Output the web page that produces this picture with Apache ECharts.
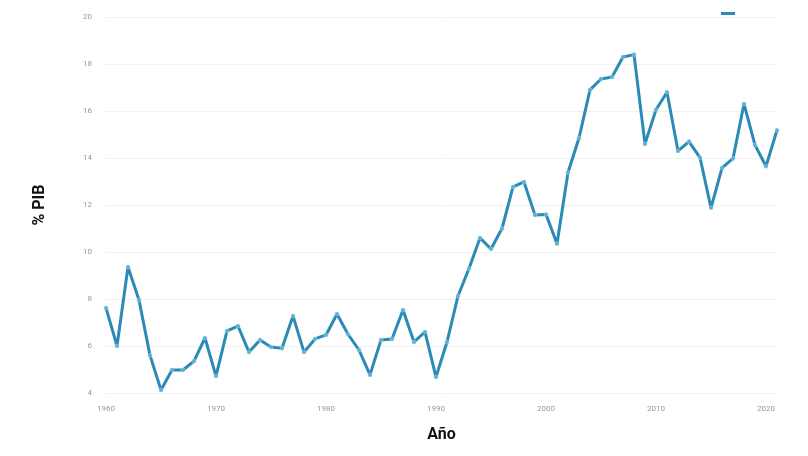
<!DOCTYPE html>
<html>
<head>
<meta charset="utf-8">
<script src="https://cdn.jsdelivr.net/npm/echarts@6/dist/echarts.min.js"></script>
<style>
html,body{margin:0;padding:0;background:#fff}
#main{width:808px;height:456px}
</style>
</head>
<body>
<div id="main"></div>
<script>
// años y % PIB
const years = [];
for (let y = 1960; y <= 2021; y++) years.push(y);
const pib = [
  7.62, 6.0, 9.36, 7.96, 5.6, 4.13, 4.98, 4.98, 5.36, 6.34,
  4.72, 6.64, 6.85, 5.74, 6.26, 5.96, 5.9, 7.28, 5.74, 6.3,
  6.47, 7.36, 6.5, 5.83, 4.77, 6.26, 6.3, 7.53, 6.17, 6.6,
  4.68, 6.17, 8.13, 9.3, 10.6, 10.13, 11.0, 12.77, 12.98, 11.57,
  11.6, 10.35, 13.38, 14.85, 16.9, 17.36, 17.45, 18.3, 18.4, 14.6,
  16.05, 16.8, 14.3, 14.7, 14.02, 11.88, 13.58, 13.98, 16.3, 14.55,
  13.65, 15.18
];
const yTicks = [4, 20, 2];   // min, max, interval

let chart = echarts.init(document.getElementById('main'));
let option = {
  backgroundColor: '#fff',
  animation: false,
  grid: { left: 106, right: 31, top: 17, bottom: 63 },
  legend: {
    top: 7, left: 716,
    itemWidth: 14, itemHeight: 3,
    icon: 'rect',
    itemStyle: { color: '#2b8ab6', borderWidth: 0 },
    formatter: () => '',
    data: ['PIB']
  },
  xAxis: {
    type: 'value',
    min: 1960, max: 2021,
    interval: 10,
    name: 'Año',
    nameLocation: 'middle',
    nameGap: 34,
    nameTextStyle: { fontFamily: 'Roboto', fontWeight: 'bold', fontSize: 16, color: '#111' },
    axisLine: { show: false },
    axisTick: { show: false },
    splitLine: { show: false },
    axisLabel: {
      fontFamily: 'Roboto', fontSize: 8, color: '#999', margin: 12,
      formatter: v => (v % 10 === 0 ? String(v) : '')
    }
  },
  yAxis: {
    type: 'value',
    min: yTicks[0], max: yTicks[1], interval: yTicks[2],
    name: '% PIB',
    nameLocation: 'middle',
    nameGap: 58,
    nameTextStyle: { fontFamily: 'Roboto', fontWeight: 'bold', fontSize: 16, color: '#111' },
    axisLine: { show: false },
    axisTick: { show: false },
    axisLabel: { fontFamily: 'Roboto', fontSize: 8, color: '#999', margin: 14 },
    splitLine: { lineStyle: { color: '#f1f1f1', width: 1 } }
  },
  series: [{
    name: 'PIB',
    type: 'line',
    data: years.map((y, i) => [y, pib[i]]),
    symbol: 'circle',
    symbolSize: 4,
    lineStyle: { color: '#2b8ab6', width: 3 },
    itemStyle: { color: '#5aaed2', borderColor: '#9fd0e6', borderWidth: 0.5 }
  }]
};
chart.setOption(option);
</script>
</body>
</html>
